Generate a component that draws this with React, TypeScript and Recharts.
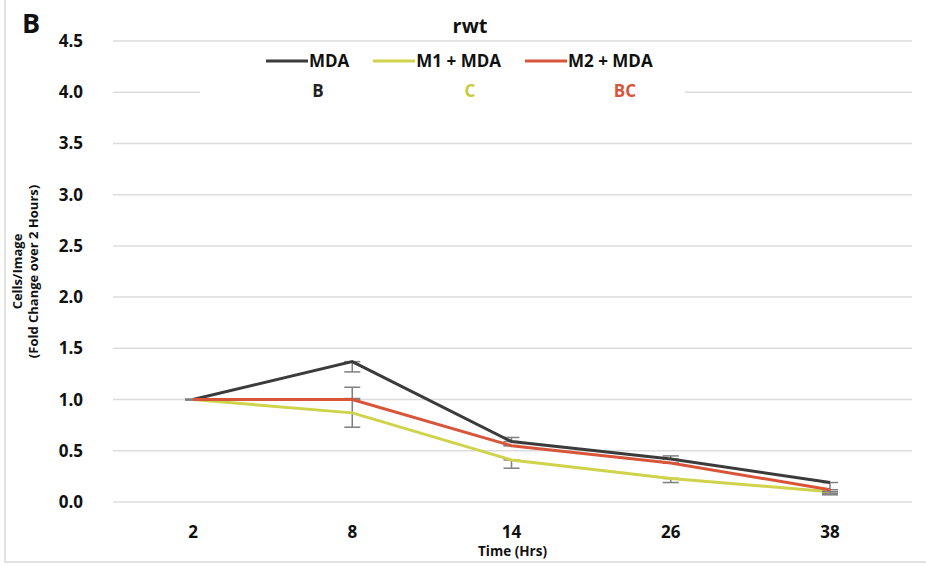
import React from "react";
import { LineChart, Line, XAxis, YAxis, CartesianGrid, ErrorBar } from "recharts";

const hours = ["2", "8", "14", "26", "38"];
const mda = [1.0, 1.37, 0.59, 0.42, 0.19];
const m1Mda = [1.0, 0.87, 0.41, 0.23, 0.1];
const m2Mda = [1.0, 1.0, 0.55, 0.38, 0.12];
// [lower, upper]
const mdaErr = [[0, 0], [0.1, 0], [0, 0.04], [0, 0.03], [0.12, 0]];
const m1Err = [[0, 0], [0.14, 0.14], [0.08, 0], [0.04, 0], [0.02, 0]];
const m2Err = [[0, 0], [0, 0.12], [0, 0], [0, 0], [0.02, 0]];
const yTicks = [0, 0.5, 1, 1.5, 2, 2.5, 3, 3.5, 4, 4.5];

const seriesNames = ["MDA", "M1 + MDA", "M2 + MDA"];
const groupLetters = ["B", "C", "BC"];
const colors = ["#3b3b3b", "#cfd34a", "#d9553a"];
const letterColors = ["#222", "#c9cc3a", "#d9553a"];

const data = hours.map((h, i) => ({
  hour: h,
  mda: mda[i],
  m1: m1Mda[i],
  m2: m2Mda[i],
  mdaErr: mdaErr[i],
  m1Err: m1Err[i],
  m2Err: m2Err[i],
}));

const font = "'Open Sans', 'DejaVu Sans', sans-serif";

function YLabel({ viewBox }: any) {
  const cx = 28;
  const cy = viewBox.y + viewBox.height / 2;
  return (
    <text transform={`rotate(-90, ${cx}, ${cy})`} x={cx} y={cy} textAnchor="middle" fontFamily={font} fontWeight={700} fontSize={13} fill="#111">
      <tspan x={cx} dy={-6}>Cells/Image</tspan>
      <tspan x={cx} dy={16}>(Fold Change over 2 Hours)</tspan>
    </text>
  );
}

export default function App() {
  const letterX = [318, 470, 625];
  return (
    <div style={{ position: "absolute", left: 0, top: 0, width: 926, height: 567, background: "#fff", fontFamily: font }}>
      <div style={{ position: "absolute", left: 4, top: 0, bottom: 4, borderLeft: "2px solid #e2e2e2", borderBottom: "2px solid #e2e2e2", right: 0 }} />
      <LineChart width={926} height={567} data={data} margin={{ top: 41, right: 14, bottom: 0, left: 0 }} style={{ position: "absolute", left: 0, top: 0 }}>
        <CartesianGrid vertical={false} stroke="#dcdcdc" strokeWidth={1.5} />
        <XAxis
          dataKey="hour"
          padding={{ left: 80, right: 82 }}
          axisLine={false}
          tickLine={false}
          tickMargin={18}
          height={65}
          tick={{ fontFamily: font, fontWeight: 700, fontSize: 17, fill: "#111" }}
          label={{ value: "Time (Hrs)", position: "insideBottom", offset: 11, fontFamily: font, fontWeight: 700, fontSize: 13.5, fill: "#111" }}
        />
        <YAxis
          domain={[0, 4.5]}
          ticks={yTicks}
          width={113}
          axisLine={false}
          tickLine={false}
          tickMargin={24}
          tickFormatter={(v: number) => v.toFixed(1)}
          tick={{ fontFamily: font, fontWeight: 700, fontSize: 17, fill: "#111" }}
          label={<YLabel />}
        />
        <Line dataKey="mda" name={seriesNames[0]} stroke={colors[0]} strokeWidth={3} dot={false} isAnimationActive={false}>
          <ErrorBar dataKey="mdaErr" stroke="#7f7f7f" strokeWidth={1.5} width={8} />
        </Line>
        <Line dataKey="m1" name={seriesNames[1]} stroke={colors[1]} strokeWidth={3} dot={false} isAnimationActive={false}>
          <ErrorBar dataKey="m1Err" stroke="#7f7f7f" strokeWidth={1.5} width={8} />
        </Line>
        <Line dataKey="m2" name={seriesNames[2]} stroke={colors[2]} strokeWidth={3} dot={false} isAnimationActive={false}>
          <ErrorBar dataKey="m2Err" stroke="#7f7f7f" strokeWidth={1.5} width={8} />
        </Line>
      </LineChart>
      <div style={{ position: "absolute", left: 200, top: 47, width: 485, height: 60, background: "#fff" }} />
      <div style={{ position: "absolute", left: 22, top: 4, fontSize: 27, fontWeight: 700, color: "#111" }}>B</div>
      <div style={{ position: "absolute", left: 0, width: 940, top: 12, textAlign: "center", fontSize: 20, fontWeight: 700, color: "#111" }}>rwt</div>
      <div style={{ position: "absolute", left: 266, top: 49, display: "flex", alignItems: "center", gap: 24, fontSize: 17, fontWeight: 700, color: "#111" }}>
        {seriesNames.map((n, i) => (
          <div key={n} style={{ display: "flex", alignItems: "center" }}>
            <svg width={42} height={6}>
              <line x1={0} y1={3} x2={42} y2={3} stroke={colors[i]} strokeWidth={3} />
            </svg>
            <span style={{ marginLeft: 1 }}>{n}</span>
          </div>
        ))}
      </div>
      {groupLetters.map((l, i) => (
        <div key={l} style={{ position: "absolute", left: letterX[i] - 30, width: 60, top: 79, textAlign: "center", fontSize: 17, fontWeight: 700, color: letterColors[i] }}>
          {l}
        </div>
      ))}
    </div>
  );
}
